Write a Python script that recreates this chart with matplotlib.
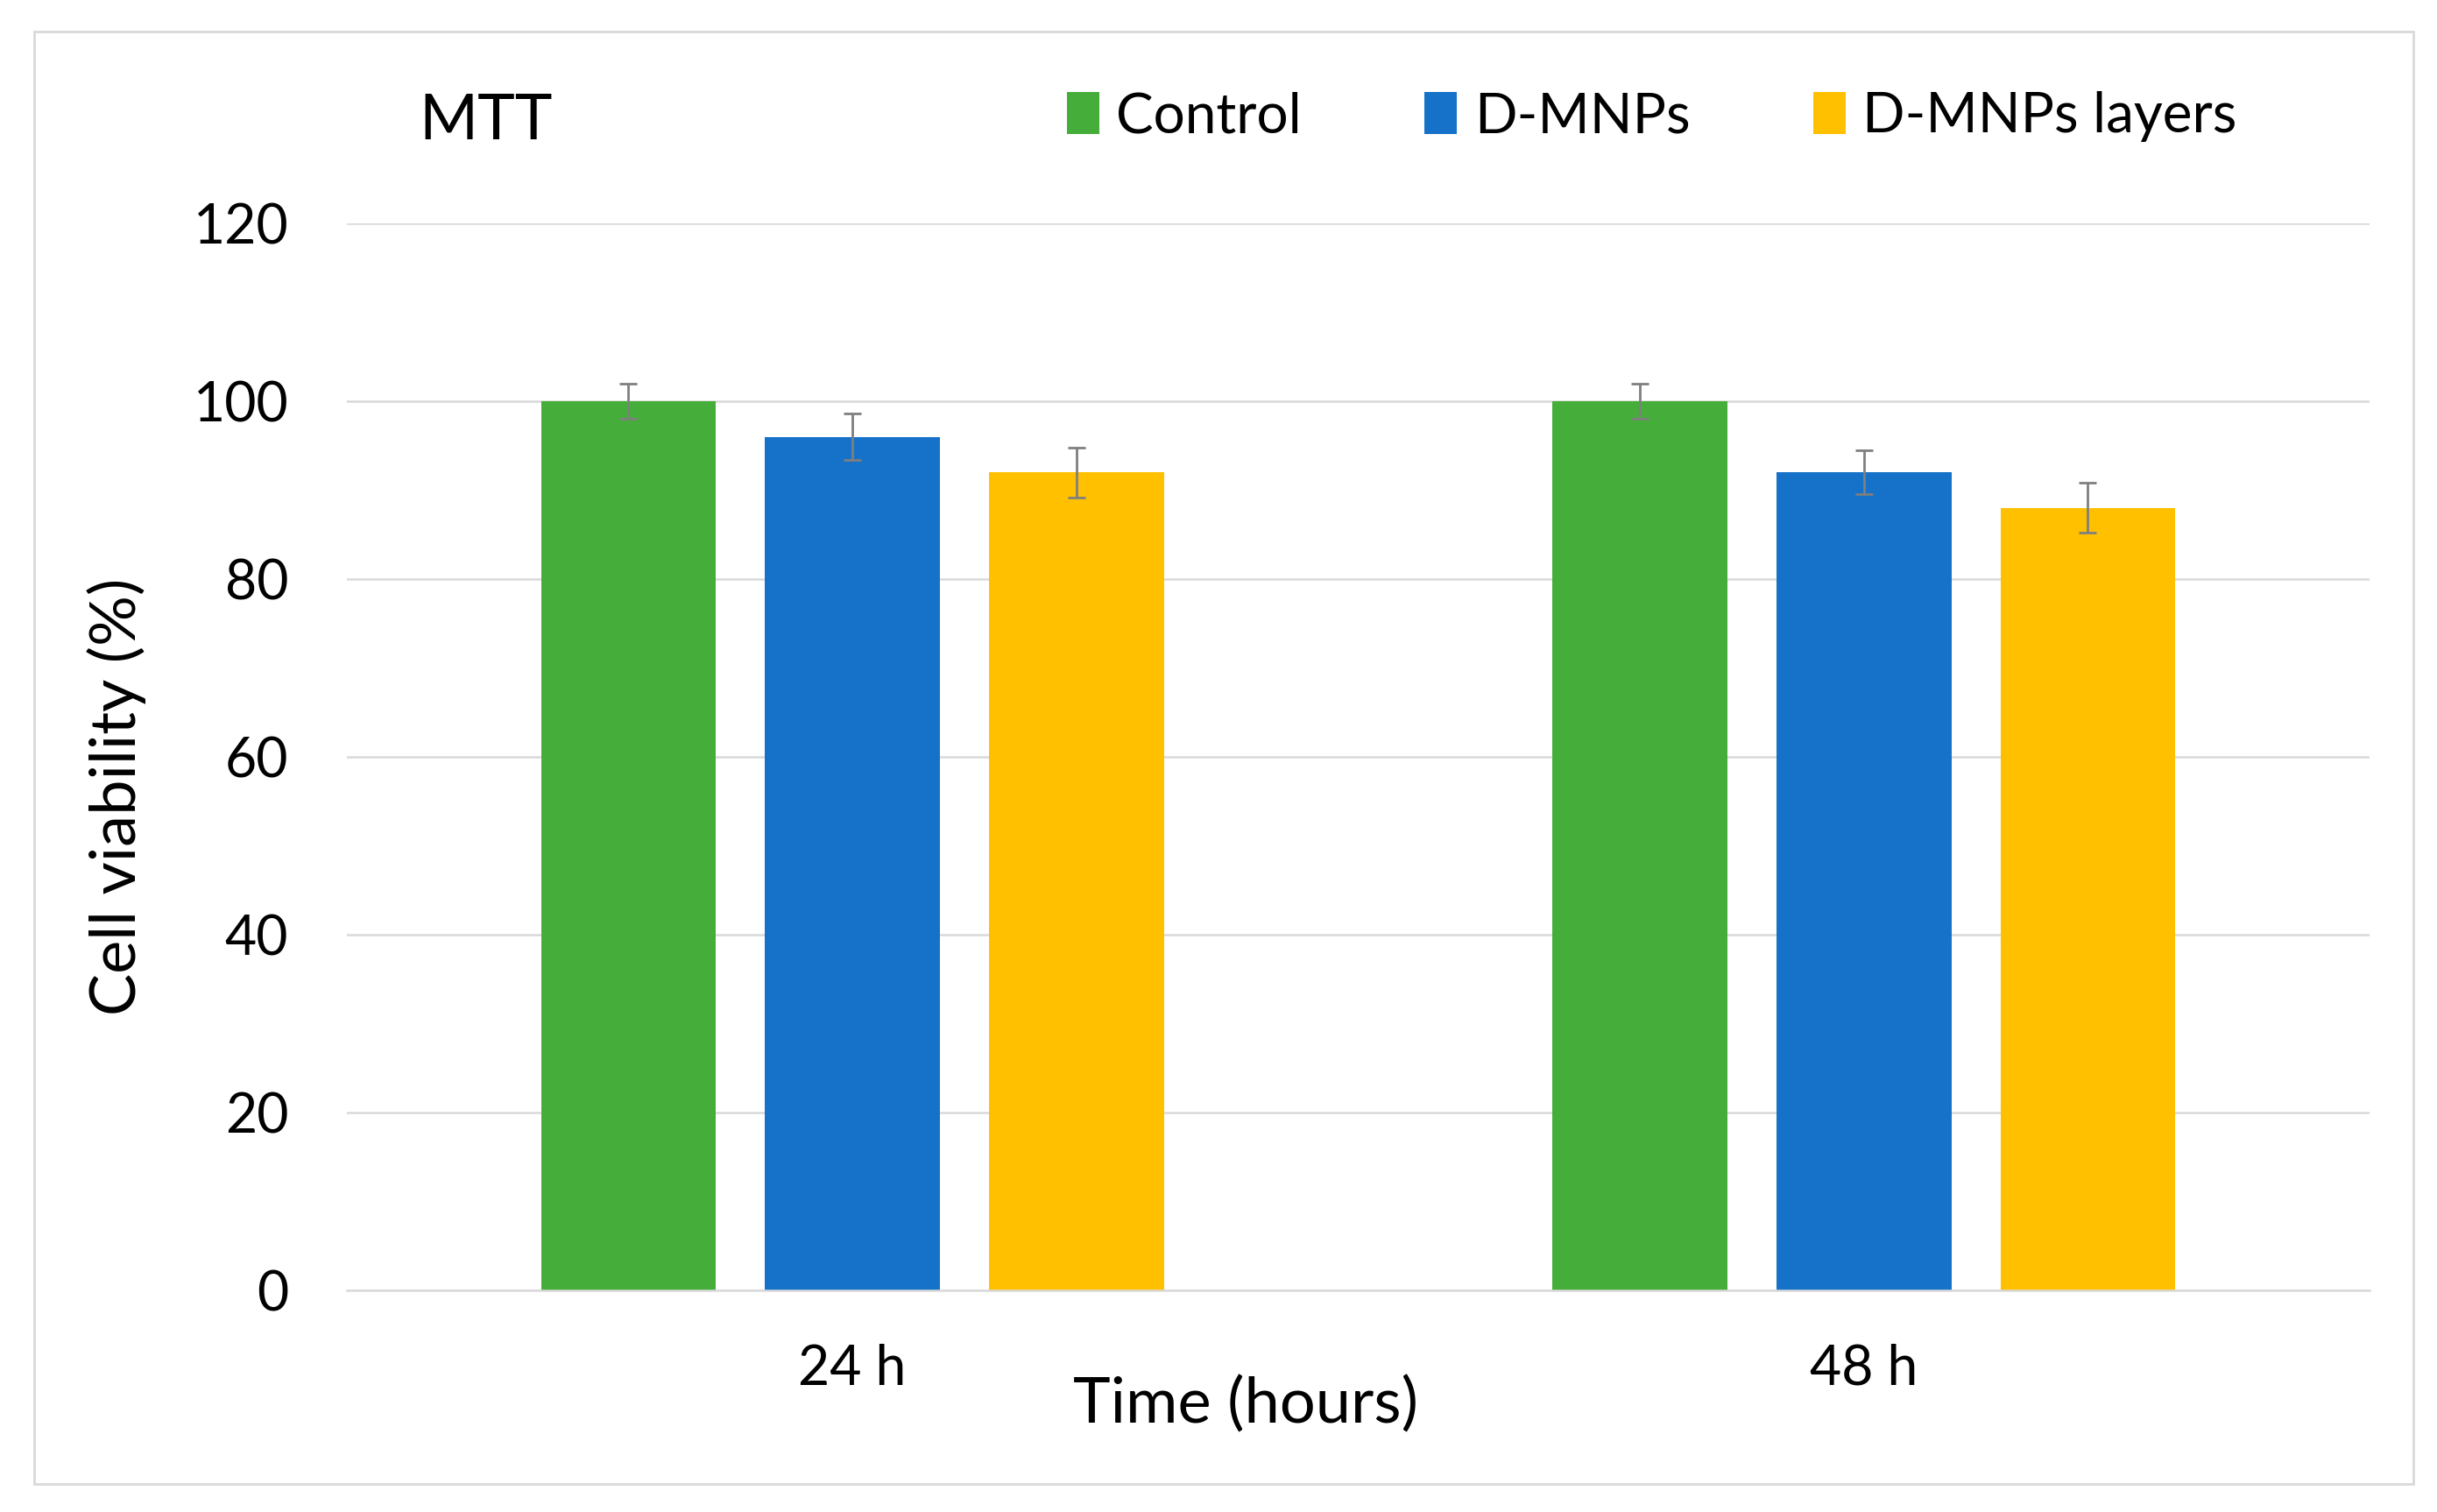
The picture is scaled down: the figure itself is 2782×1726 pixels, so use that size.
import matplotlib
matplotlib.use("Agg")
import matplotlib.pyplot as plt
import numpy as np
from matplotlib.patches import Rectangle

plt.rcParams["font.family"] = ["Lato", "DejaVu Sans"]

TIMES = ["24 h", "48 h"]
GROUPS = ["Control", "D-MNPs", "D-MNPs layers"]
CONTROL = [100, 100]
D_MNPS = [96, 92]
D_MNPS_LAYERS = [92, 88]
CONTROL_ERR = [2.0, 2.0]
D_MNPS_ERR = [2.6, 2.5]
D_MNPS_LAYERS_ERR = [2.8, 2.8]

COLORS = ["#45AE3A", "#1572C8", "#FFC000"]


def main() -> None:
    fig = plt.figure(figsize=(13.91, 8.63), dpi=200)
    ax = fig.add_axes([0.1423, 0.1467, 0.8300, 0.7056])

    # outer chart border
    fig.patches.append(Rectangle((0.0141, 0.0186), 0.9763, 0.9608, transform=fig.transFigure,
                                 fill=False, edgecolor="#d9d9d9", linewidth=1.0))

    x = np.arange(len(TIMES))
    width = 0.173
    step = 0.2215
    series = [(CONTROL, CONTROL_ERR), (D_MNPS, D_MNPS_ERR), (D_MNPS_LAYERS, D_MNPS_LAYERS_ERR)]
    for i, ((vals, errs), name) in enumerate(zip(series, GROUPS)):
        ax.bar(x + (i - 1) * step, vals, width, color=COLORS[i], label=name, zorder=2,
               yerr=errs, error_kw=dict(ecolor="#7f7f7f", elinewidth=1.0, capsize=3.5, capthick=1.0))

    ax.set_xlim(-0.5, 1.5)
    ax.set_ylim(0, 120)
    ax.set_yticks(np.arange(0, 121, 20))
    ax.set_xticks(x)
    ax.set_xticklabels(TIMES)
    ax.tick_params(axis="both", length=0, labelsize=22.5, colors="black")
    ax.tick_params(axis="y", pad=24)
    ax.tick_params(axis="x", pad=22)
    ax.grid(True, axis="y", color="#d9d9d9", linewidth=0.9, zorder=0)
    for side in ["top", "right", "left"]:
        ax.spines[side].set_visible(False)
    ax.spines["bottom"].set_color("#d9d9d9")
    ax.spines["bottom"].set_linewidth(0.9)
    ax.set_axisbelow(True)

    fig.text(0.511, 0.071, "Time (hours)", ha="center", va="center", fontsize=26)
    fig.text(0.048, 0.473, "Cell viability (%)", ha="center", va="center", rotation=90, fontsize=26)
    fig.text(0.1718, 0.920, "MTT", ha="left", va="center", fontsize=26)

    ax.legend(loc="center left", bbox_to_anchor=(0.356, 1.100), ncol=3, frameon=False,
              fontsize=23, handlelength=0.58, handleheight=0.8, handletextpad=0.3,
              columnspacing=2.2, borderaxespad=0, borderpad=0)

    fig.savefig("out.png", dpi=200)
    plt.close(fig)


if __name__ == "__main__":
    main()
